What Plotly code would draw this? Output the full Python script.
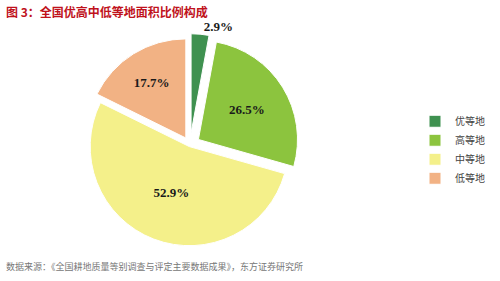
import plotly.graph_objects as go

categories = ["优等地", "高等地", "中等地", "低等地"]
shares = [2.9, 26.5, 52.9, 17.7]
slice_labels = ["2.9%", "26.5%", "52.9%", "17.7%"]
colors = ["#3f9150", "#8cc43e", "#f4f08a", "#f2b284"]
pulls = [0.12, 0.1, 0.02, 0.08]

fig = go.Figure()
fig.add_trace(go.Pie(
    labels=categories,
    values=shares,
    text=slice_labels,
    textinfo="text",
    texttemplate="<b>%{text}</b>",
    textposition=["outside", "inside", "inside", "inside"],
    insidetextorientation="horizontal",
    textfont=dict(family="Liberation Serif", size=13, color="#1a1a1a"),
    marker=dict(colors=colors, line=dict(color="#ffffff", width=1)),
    pull=pulls,
    sort=False,
    direction="clockwise",
    rotation=0,
    automargin=False,
    domain=dict(x=[0.08, 0.68], y=[0.09, 0.88]),
    showlegend=True,
))

fig.update_layout(
    width=500, height=281,
    margin=dict(l=0, r=0, t=0, b=0, autoexpand=False),
    paper_bgcolor="white",
    plot_bgcolor="white",
    font=dict(family="Noto Sans CJK SC"),
    legend=dict(
        x=0.83, y=0.62, xanchor="left", yanchor="top",
        font=dict(size=10, color="#444444", family="Noto Sans CJK SC"),
        itemwidth=30, tracegroupgap=4,
    ),
    annotations=[
        dict(text="<b>图 3：全国优高中低等地面积比例构成</b>", x=0.008, y=0.995,
             xref="paper", yref="paper", xanchor="left", yanchor="top",
             showarrow=False, font=dict(size=12, color="#c0121c", family="Noto Sans CJK SC")),
        dict(text="数据来源：《全国耕地质量等别调查与评定主要数据成果》，东方证券研究所", x=0.008, y=0.02,
             xref="paper", yref="paper", xanchor="left", yanchor="bottom",
             showarrow=False, font=dict(size=9, color="#777777", family="Noto Sans CJK SC")),
    ],
)

fig.write_html("out.html")
